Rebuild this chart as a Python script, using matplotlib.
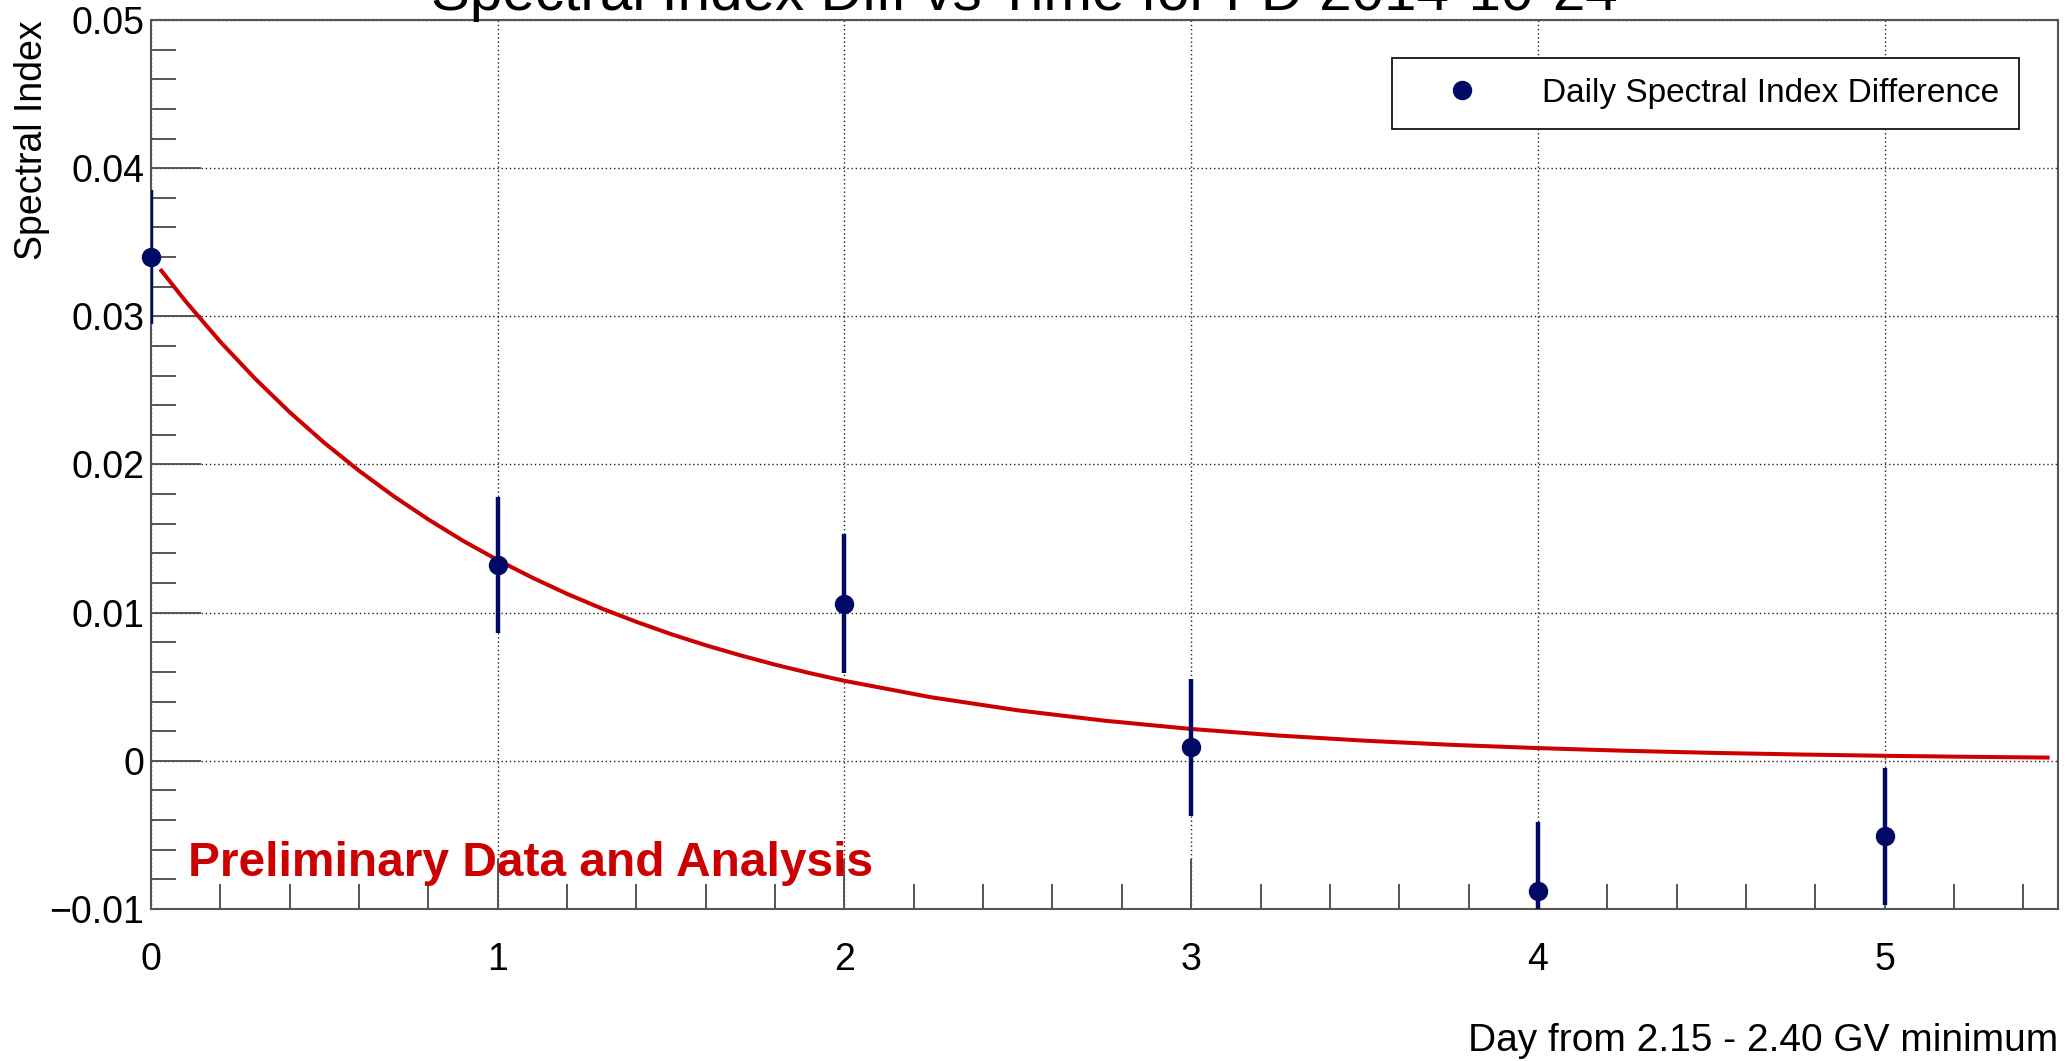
import matplotlib
matplotlib.use("Agg")
import matplotlib.pyplot as plt
from matplotlib.ticker import MultipleLocator, FuncFormatter

plt.rcParams['font.family'] = ['Liberation Sans', 'DejaVu Sans']

# daily spectral index difference
days = [0, 1, 2, 3, 4, 5]
index_diff = [0.0340, 0.0132, 0.0106, 0.0009, -0.0088, -0.0051]
index_err = [0.0045, 0.0046, 0.0047, 0.0046, 0.0047, 0.0046]

# red fit curve
fit_x = [0.03, 0.1, 0.2, 0.3, 0.4, 0.5, 0.6, 0.7, 0.8, 0.9, 1.0, 1.1, 1.2,
         1.3, 1.4, 1.5, 1.6, 1.7, 1.8, 1.9, 2.0, 2.25, 2.5, 2.75, 3.0, 3.25,
         3.5, 3.75, 4.0, 4.25, 4.5, 4.75, 5.0, 5.25, 5.47]
fit_y = [0.03308, 0.03101, 0.02828, 0.02580, 0.02353, 0.02146, 0.01958,
         0.01786, 0.01629, 0.01485, 0.01355, 0.01236, 0.01127, 0.01028,
         0.00938, 0.00855, 0.00780, 0.00712, 0.00649, 0.00592, 0.00540,
         0.00429, 0.00341, 0.00271, 0.00215, 0.00171, 0.00136, 0.00108,
         0.00086, 0.00068, 0.00054, 0.00043, 0.00034, 0.00027, 0.00022]

title = "Spectral Index Diff vs Time for FD 2014-10-24"
navy = '#000a64'
red = '#cc0000'
frame = '#555555'

W, H = 2065, 1061
fig = plt.figure(figsize=(W / 100, H / 100), dpi=100)
ax = fig.add_axes([151 / W, 1 - 909 / H, (2058 - 151) / W, (909 - 20) / H])

ax.plot(fit_x, fit_y, color=red, lw=2.9, zorder=3)
ax.errorbar(days, index_diff, yerr=index_err, fmt='none', ecolor=navy,
            elinewidth=3.2, capsize=0, zorder=4)
ax.plot(days, index_diff, 'o', color=navy, ms=13, clip_on=False, zorder=5,
        label="Daily Spectral Index Difference")

ax.set_xlim(0, 5.5)
ax.set_ylim(-0.01, 0.05)
ax.xaxis.set_major_locator(MultipleLocator(1))
ax.xaxis.set_minor_locator(MultipleLocator(0.2))
ax.yaxis.set_major_locator(MultipleLocator(0.01))
ax.yaxis.set_minor_locator(MultipleLocator(0.002))
ax.yaxis.set_major_formatter(FuncFormatter(lambda v, p: ('%g' % round(v, 4)).replace('-', '\u2212')))

ax.tick_params(which='both', direction='in', color=frame, width=1.4,
               labelsize=27, top=False, right=False)
ax.tick_params(which='major', length=36)
ax.tick_params(which='minor', length=18)
ax.tick_params(axis='x', pad=24)
ax.tick_params(axis='y', pad=5)
for s in ax.spines.values():
    s.set_color(frame)
    s.set_linewidth(1.5)

ax.grid(True, which='major', color='#222222', lw=1, linestyle=(0, (1, 2)))

leg = ax.legend(loc='upper right', bbox_to_anchor=(2019 / W, 1 - 58 / H),
                bbox_transform=fig.transFigure, fontsize=24, frameon=True,
                fancybox=False, edgecolor='black', framealpha=1,
                borderpad=0.6, handlelength=3.0, handletextpad=0.9,
                borderaxespad=0, numpoints=1)
leg.get_frame().set_linewidth(1.2)

ax.text(188 / W, 1 - 876 / H, "Preliminary Data and Analysis",
        transform=fig.transFigure, color=red, fontsize=34.5,
        fontweight='bold', va='baseline', ha='left')

fig.text(1024 / W, 1 - 10 / H, title, ha='center', va='baseline', fontsize=42)
fig.text(32 / W, 1 - 20 / H, "Spectral Index", rotation=90, ha='center',
         va='top', fontsize=27)
fig.text(2058 / W, 1 - 1051 / H, "Day from 2.15 - 2.40 GV minimum",
         ha='right', va='baseline', fontsize=28)

fig.savefig("out.png", dpi=100)
